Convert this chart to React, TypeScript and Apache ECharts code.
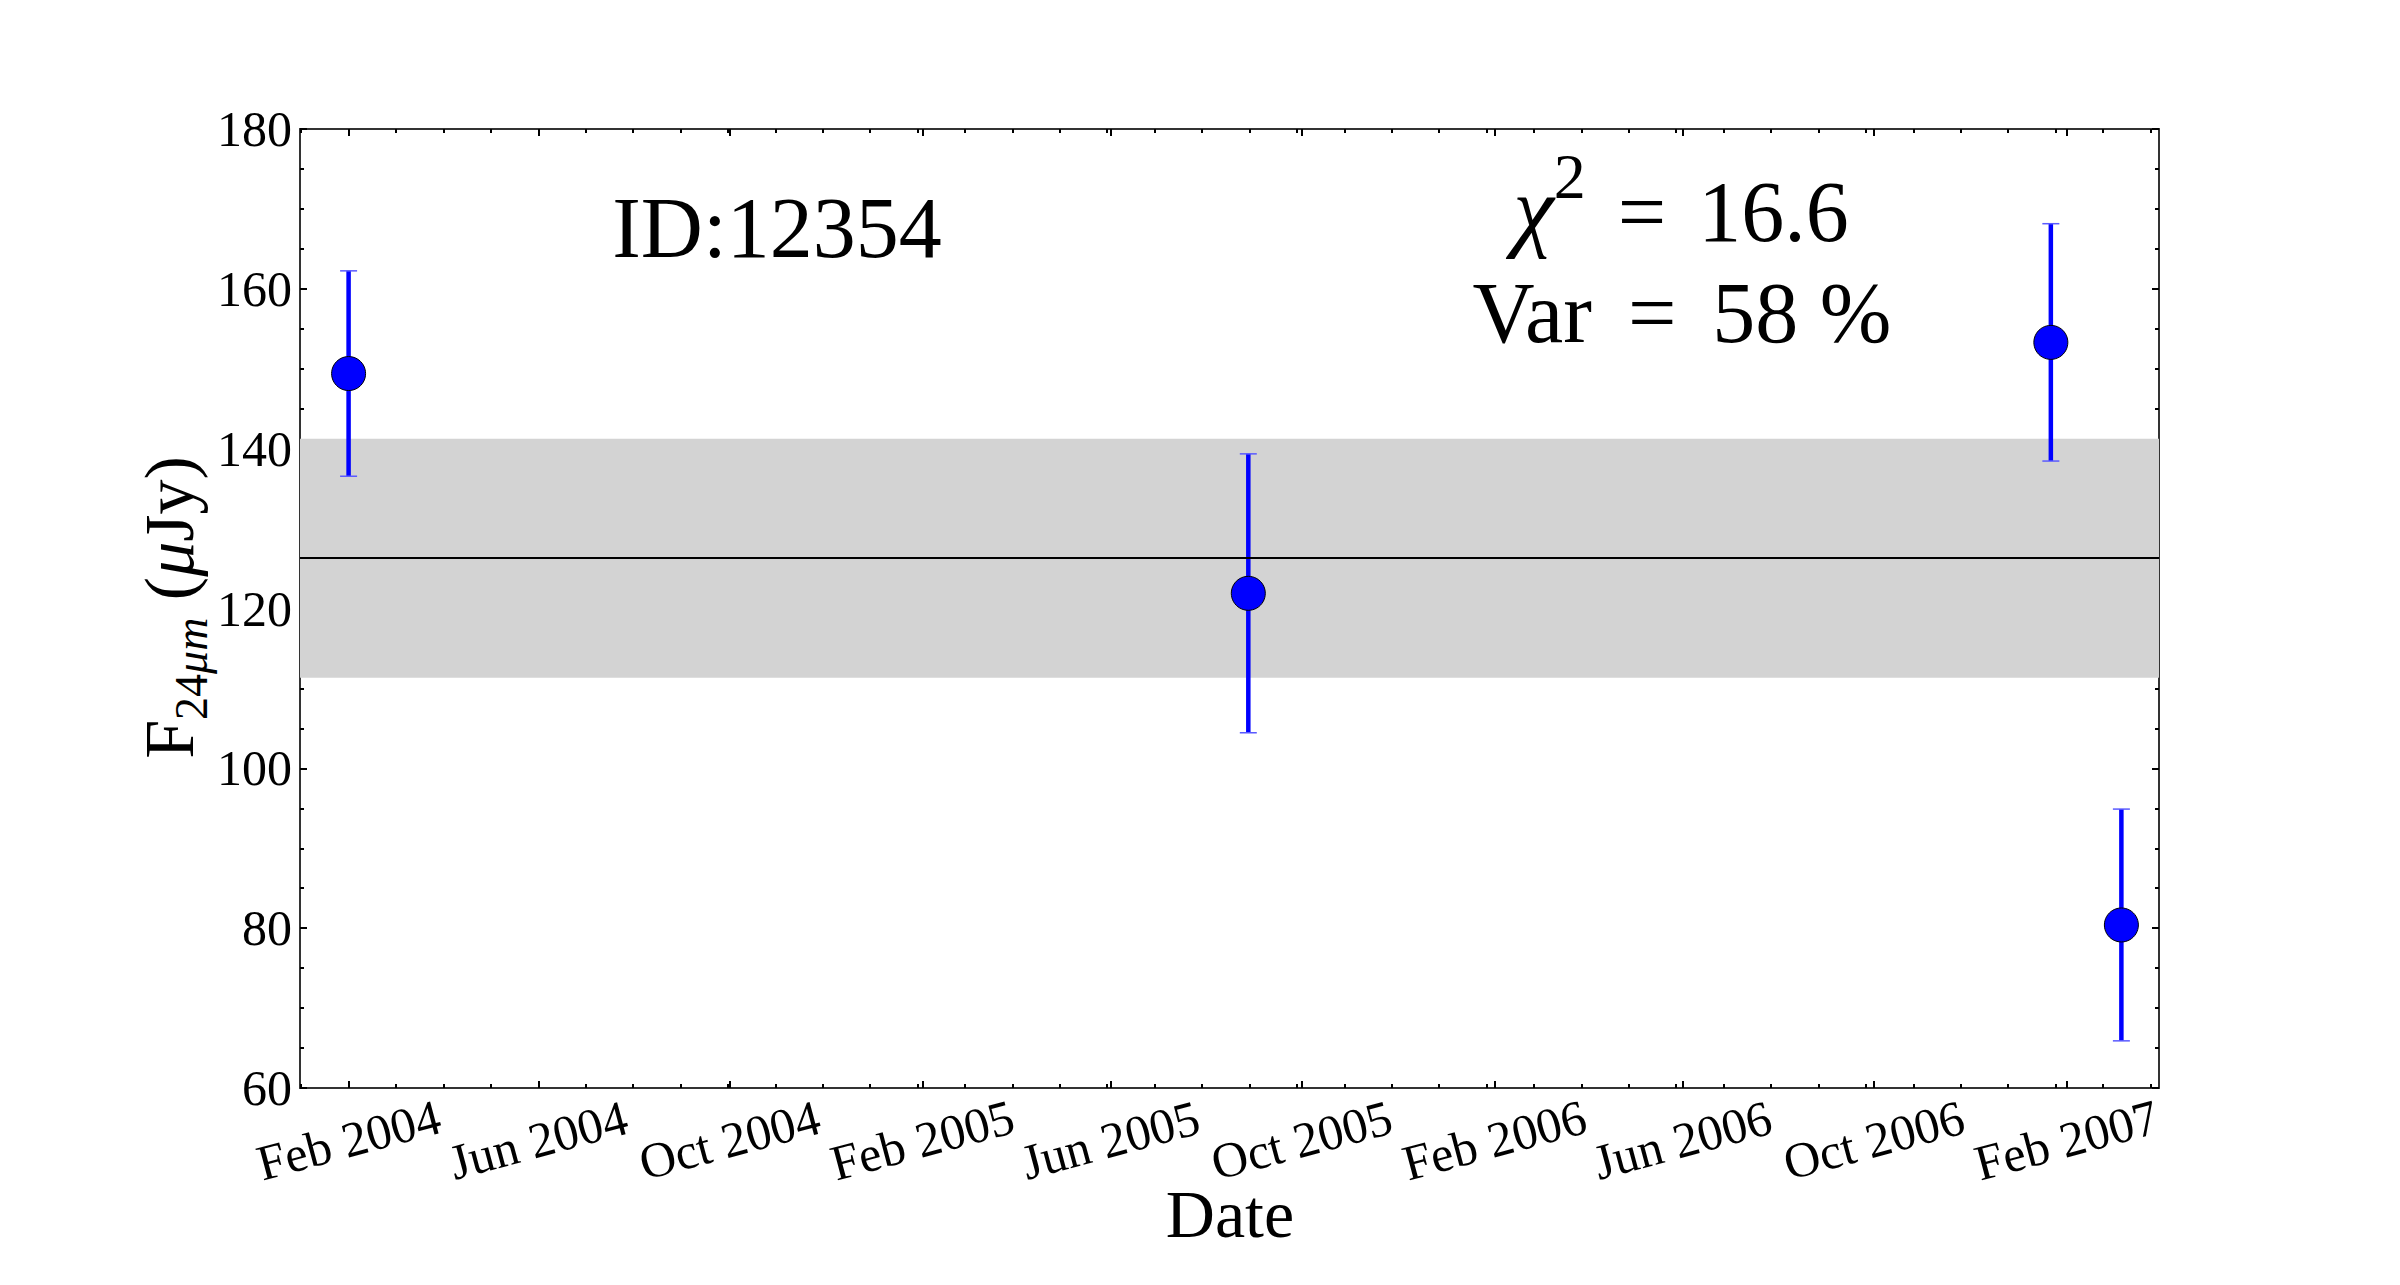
import React, { useEffect, useRef } from 'react';
import * as echarts from 'echarts';

const FONT = "'Liberation Serif', 'DejaVu Serif', serif";

// Observations (date, flux in µJy, 1-sigma error)
const obsDates = ['2004-02-01', '2005-08-28', '2007-01-22', '2007-03-08'];
const fluxValues = [149.4, 121.9, 153.3, 80.4];
const fluxErrors = [12.85, 17.45, 14.85, 14.5];

// Weighted mean and its band
const meanFlux = 126.3;
const bandHalfWidth = 14.95;

// Axes
const xStart = '2004-01-01';
const xEnd = '2007-04-01';
const majorTickDates = [
  '2004-02-01', '2004-06-01', '2004-10-01', '2005-02-01', '2005-06-01',
  '2005-10-01', '2006-02-01', '2006-06-01', '2006-10-01', '2007-02-01',
];
const monthNames = ['Jan', 'Feb', 'Mar', 'Apr', 'May', 'Jun', 'Jul', 'Aug', 'Sep', 'Oct', 'Nov', 'Dec'];
const minorStepDays = 30.25;
const yMin = 60;
const yMax = 180;
const yStep = 20;

// Annotations
const idLabel = 'ID:12354';
const chi2Value = '16.6';
const varValue = '58 %';

const DAY = 86400000;
const ts = (s: string) => Date.parse(s + 'T00:00:00Z');

export default function App() {
  const ref = useRef<HTMLDivElement>(null);

  useEffect(() => {
    const chart = echarts.init(ref.current!, null, { renderer: 'svg' });
    const xMin = ts(xStart);
    const xMax = ts(xEnd);
    const majors = majorTickDates.map(ts);
    const labelsA = majors.filter((_, i) => i % 2 === 0);
    const labelsB = majors.filter((_, i) => i % 2 === 1);
    const minors: number[] = [];
    const t0 = majors[0];
    const step = minorStepDays * DAY;
    for (let k = Math.ceil((xMin - t0) / step); t0 + k * step <= xMax; k++) minors.push(t0 + k * step);
    const fmt = (v: number) => {
      const d = new Date(v);
      return monthNames[d.getUTCMonth()] + ' ' + d.getUTCFullYear();
    };

    const axisLine = { show: true, onZero: false, lineStyle: { color: '#333', width: 2 } };
    const tickStyle = { color: '#000', width: 2 };
    const baseX: any = { type: 'value', min: xMin, max: xMax, splitLine: { show: false } };
    const majorTick = { show: true, inside: true, length: 7, customValues: majors, lineStyle: tickStyle };
    const minorTickX = { show: true, inside: true, length: 4, customValues: minors, lineStyle: tickStyle };
    const xLabel = (vals: number[]) => ({
      show: true, customValues: vals, formatter: fmt, rotate: 15, align: 'center',
      verticalAlign: 'middle', margin: 52, fontFamily: FONT, fontSize: 50, color: '#000',
      showMinLabel: true, showMaxLabel: true, hideOverlap: false,
    });

    const option: any = {
      animation: false,
      grid: { left: 300, right: 241, top: 129, bottom: 197, containLabel: false, outerBoundsMode: 'none' },
      xAxis: [
        { ...baseX, position: 'bottom', axisLine, axisTick: majorTick, axisLabel: xLabel(labelsA) },
        { ...baseX, position: 'bottom', axisLine: { show: false, onZero: false }, axisTick: minorTickX, axisLabel: xLabel(labelsB) },
        { ...baseX, position: 'top', axisLine, axisTick: majorTick, axisLabel: { show: false } },
        { ...baseX, position: 'top', axisLine: { show: false, onZero: false }, axisTick: minorTickX, axisLabel: { show: false } },
      ],
      yAxis: [
        {
          type: 'value', position: 'left', min: yMin, max: yMax, interval: yStep,
          axisLine, axisTick: { show: true, inside: true, length: 7, lineStyle: tickStyle },
          minorTick: { show: true, splitNumber: 4, length: 4, lineStyle: tickStyle },
          axisLabel: { fontFamily: FONT, fontSize: 50, color: '#000', margin: 8, showMinLabel: true, showMaxLabel: true },
          splitLine: { show: false }, minorSplitLine: { show: false },
        },
        {
          type: 'value', position: 'right', min: yMin, max: yMax, interval: yStep,
          axisLine, axisTick: { show: true, inside: true, length: 7, lineStyle: tickStyle },
          minorTick: { show: true, splitNumber: 4, length: 4, lineStyle: tickStyle },
          axisLabel: { show: false },
          splitLine: { show: false }, minorSplitLine: { show: false },
        },
      ],
      series: [
        {
          type: 'line', data: [], xAxisIndex: 0, yAxisIndex: 0, silent: true, z: 1,
          markArea: {
            silent: true, z: 1,
            itemStyle: { color: '#d3d3d3', opacity: 1, borderWidth: 0 },
            label: { show: false },
            data: [[{ yAxis: meanFlux - bandHalfWidth }, { yAxis: meanFlux + bandHalfWidth }]],
          },
          markLine: {
            silent: true, z: 5, symbol: ['none', 'none'], label: { show: false },
            lineStyle: { color: '#000', width: 2, type: 'solid', opacity: 1 },
            data: [{ yAxis: meanFlux }],
          },
        },
        {
          type: 'custom', xAxisIndex: 0, yAxisIndex: 0, z: 3, silent: true,
          data: obsDates.map((d, i) => [ts(d), fluxValues[i] - fluxErrors[i], fluxValues[i] + fluxErrors[i]]),
          encode: { x: 0, y: [1, 2] },
          renderItem: (params: any, api: any) => {
            const x = api.value(0);
            const top = api.coord([x, api.value(2)]);
            const bot = api.coord([x, api.value(1)]);
            const cap = 8.5;
            return {
              type: 'group',
              children: [
                { type: 'line', shape: { x1: top[0], y1: top[1], x2: bot[0], y2: bot[1] }, style: { stroke: '#0000ff', lineWidth: 4.5 } },
                { type: 'line', shape: { x1: top[0] - cap, y1: top[1], x2: top[0] + cap, y2: top[1] }, style: { stroke: '#5a5aff', lineWidth: 1.5 } },
                { type: 'line', shape: { x1: bot[0] - cap, y1: bot[1], x2: bot[0] + cap, y2: bot[1] }, style: { stroke: '#5a5aff', lineWidth: 1.5 } },
              ],
            };
          },
        },
        {
          type: 'scatter', xAxisIndex: 0, yAxisIndex: 0, z: 10, silent: true,
          data: obsDates.map((d, i) => [ts(d), fluxValues[i]]),
          symbol: 'circle', symbolSize: 34,
          itemStyle: { color: '#0000ff', borderColor: '#000', borderWidth: 1, opacity: 1 },
        },
      ],
      graphic: [
        {
          type: 'text', x: 777, y: 228, z: 20,
          style: { text: idLabel, fontFamily: FONT, fontSize: 86, fill: '#000', align: 'center', verticalAlign: 'middle' },
        },
        {
          type: 'text', x: 1681, y: 199.5, z: 20,
          style: {
            text: '{i|χ}{s|2}{e|=}{n|' + chi2Value + '}',
            fontFamily: FONT, fontSize: 86, fill: '#000', align: 'center', verticalAlign: 'middle',
            rich: {
              i: { fontFamily: FONT, fontSize: 92, fontStyle: 'italic', verticalAlign: 'bottom', padding: [18, 0, 0, 0] },
              s: { fontFamily: FONT, fontSize: 64, verticalAlign: 'top', padding: [0, 0, 0, 0] },
              e: { fontFamily: FONT, fontSize: 86, verticalAlign: 'bottom', padding: [18, 32, 0, 32] },
              n: { fontFamily: FONT, fontSize: 86, verticalAlign: 'bottom', padding: [18, 0, 0, 0] },
            },
          },
        },
        {
          type: 'text', x: 1682, y: 313, z: 20,
          style: {
            text: '{n|Var}{e|=}{n|' + varValue + '}',
            fontFamily: FONT, fontSize: 86, fill: '#000', align: 'center', verticalAlign: 'middle',
            rich: {
              n: { fontFamily: FONT, fontSize: 86 },
              e: { fontFamily: FONT, fontSize: 86, padding: [0, 36, 0, 36] },
            },
          },
        },
        {
          type: 'text', x: 1230, y: 1214, z: 20,
          style: { text: 'Date', fontFamily: FONT, fontSize: 68, fill: '#000', align: 'center', verticalAlign: 'middle' },
        },
        {
          type: 'text', x: 174.5, y: 607.5, rotation: Math.PI / 2, z: 20,
          style: {
            text: '{m|F}{s|24}{si|μm}{m| (}{mi|μ}{m|Jy)}',
            fontFamily: FONT, fontSize: 68, fill: '#000', align: 'center', verticalAlign: 'middle',
            rich: {
              m: { fontFamily: FONT, fontSize: 70, verticalAlign: 'top' },
              mi: { fontFamily: FONT, fontSize: 70, fontStyle: 'italic', verticalAlign: 'top' },
              s: { fontFamily: FONT, fontSize: 46, verticalAlign: 'bottom', padding: [34, 0, 0, 0] },
              si: { fontFamily: FONT, fontSize: 46, fontStyle: 'italic', verticalAlign: 'bottom', padding: [34, 0, 0, 0] },
            },
          },
        },
      ],
    };

    chart.setOption(option);
    return () => chart.dispose();
  }, []);

  return (
    <div
      ref={ref}
      style={{ position: 'fixed', left: 0, top: 0, width: '2400px', height: '1285px', background: '#fff' }}
    />
  );
}
